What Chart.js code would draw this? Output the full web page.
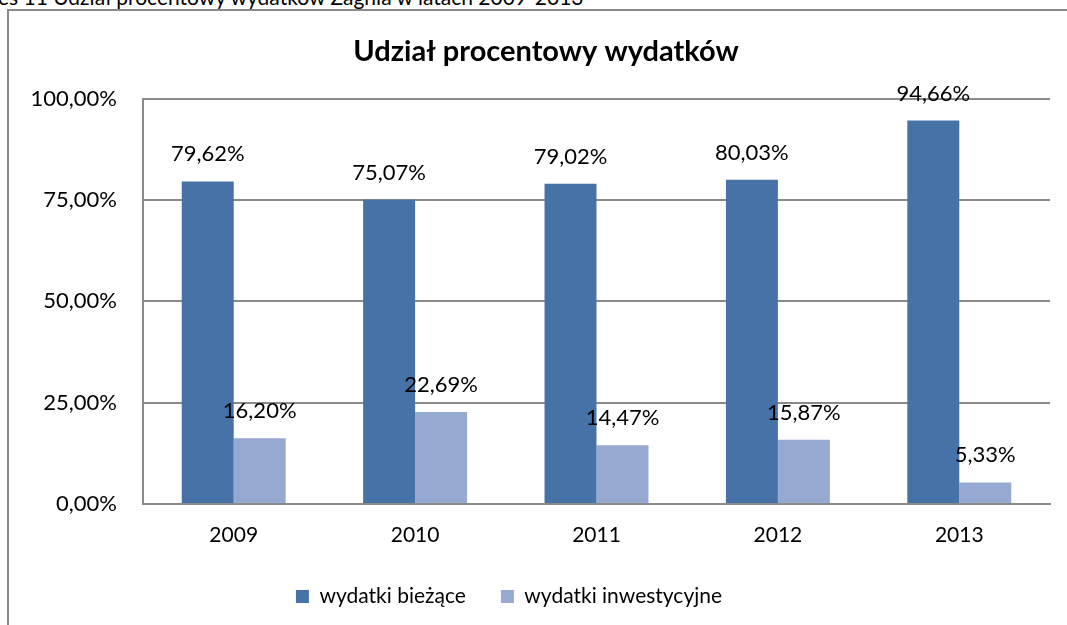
<!DOCTYPE html>
<html>
<head>
<meta charset="utf-8">
<script src="https://cdn.jsdelivr.net/npm/chart.js@4"></script>
<style>
html, body { margin: 0; overflow: hidden; background: #fff; font-family: Lato, sans-serif; }
#caption { position: absolute; left: -2px; top: -16px; font-size: 21px; white-space: nowrap; color: #000; }
.frameLine { position: absolute; background: #8a8a8a; }
#frameTop { left: 7px; top: 9px; width: 1060px; height: 2px; }
#frameLeft { left: 7px; top: 9px; width: 2px; height: 616px; }
#chart { position: absolute; left: 0; top: 0; }
</style>
</head>
<body>
<div id="caption">es 11 Udział procentowy wydatków Zagnia w latach 2009-2013</div>
<div id="frameTop" class="frameLine"></div>
<div id="frameLeft" class="frameLine"></div>
<canvas id="chart" width="1067" height="625"></canvas>
<script>
var years = ['2009', '2010', '2011', '2012', '2013'];
var biezace = [79.62, 75.07, 79.02, 80.03, 94.66];
var inwestycyjne = [16.20, 22.69, 14.47, 15.87, 5.33];
var yTicks = [0, 25, 50, 75, 100];

function pct(v) {
    return v.toFixed(2).replace('.', ',') + '%';
}

// value labels above bars
var valueLabels = {
    id: 'valueLabels',
    afterDatasetsDraw: function(chart) {
        var ctx = chart.ctx;
        ctx.save();
        ctx.font = '22px Lato';
        ctx.fillStyle = '#000';
        ctx.textAlign = 'center';
        ctx.textBaseline = 'middle';
        chart.data.datasets.forEach(function(ds, i) {
            chart.getDatasetMeta(i).data.forEach(function(bar, j) {
                ctx.fillText(pct(ds.data[j]), bar.x, bar.y - 27);
            });
        });
        ctx.restore();
    }
};

// title a bit right of centre, legend a bit left, as in the original
var boxShift = {
    id: 'boxShift',
    afterLayout: function(chart) {
        chart.titleBlock.left += 21;
        chart.titleBlock.right += 21;
        chart.legend.left -= 16;
        chart.legend.right -= 16;
    }
};

var chart = new Chart(document.getElementById('chart'), {
    type: 'bar',
    data: {
        labels: years,
        datasets: [
            { label: 'wydatki bieżące', data: biezace, backgroundColor: '#4672a8' },
            { label: 'wydatki inwestycyjne', data: inwestycyjne, backgroundColor: '#95a9d1' }
        ]
    },
    options: {
        responsive: false,
        animation: false,
        layout: { padding: { left: 0, right: 17, top: 0, bottom: 8 } },
        datasets: { bar: { categoryPercentage: 0.573, barPercentage: 1.0 } },
        plugins: {
            title: {
                display: true,
                text: 'Udział procentowy wydatków',
                color: '#000',
                font: { family: 'Lato', size: 29, weight: 'bold', lineHeight: 1.2 },
                padding: { top: 34, bottom: 30 }
            },
            legend: {
                position: 'bottom',
                labels: {
                    color: '#000',
                    font: { family: 'Lato', size: 21 },
                    boxWidth: 13,
                    boxHeight: 13,
                    padding: 35
                }
            },
            tooltip: { enabled: false }
        },
        scales: {
            x: {
                afterFit: function(scale) { scale.height = 47; },
                grid: { display: false, drawTicks: false },
                border: { color: '#8a8a8a', width: 2 },
                ticks: { color: '#000', font: { family: 'Lato', size: 21 }, padding: 19 }
            },
            y: {
                min: 0,
                max: 100,
                afterFit: function(scale) { scale.width = 143; },
                afterBuildTicks: function(scale) {
                    scale.ticks = yTicks.map(function(v) { return { value: v }; });
                },
                grid: { color: '#8a8a8a', lineWidth: 2, drawTicks: false },
                border: { color: '#8a8a8a', width: 2 },
                ticks: {
                    color: '#000',
                    font: { family: 'Lato', size: 22 },
                    padding: 26,
                    callback: function(v) { return pct(v); }
                }
            }
        }
    },
    plugins: [valueLabels, boxShift]
});
</script>
</body>
</html>
